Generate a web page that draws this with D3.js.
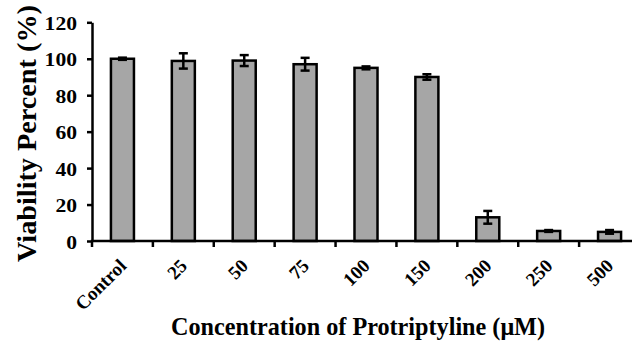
<!DOCTYPE html>
<html>
<head>
<meta charset="utf-8">
<script src="https://cdn.jsdelivr.net/npm/d3@7"></script>
<style>
  html, body { margin: 0; padding: 0; background: #fff; }
  svg { display: block; }
</style>
</head>
<body>
<svg id="chart" width="632" height="346"></svg>
<script>
const categories = ["Control", "25", "50", "75", "100", "150", "200", "250", "500"];
const values = [100, 98.8, 99, 97, 95, 90, 13, 5.5, 5];
const errors = [0.6, 4.2, 3, 3.5, 0.8, 1.5, 3.5, 0.5, 1];
const yTicks = [0, 20, 40, 60, 80, 100, 120];

const FONT = "'Liberation Serif', 'Times New Roman', Times, 'DejaVu Serif', serif";
const svg = d3.select("#chart");
const x0 = 92, x1 = 640, yBase = 241, yTop = 22.3;

const x = d3.scaleBand().domain(categories).range([x0, x1]).paddingInner(0.622).paddingOuter(0.311);
const y = d3.scaleLinear().domain([0, 120]).range([yBase, yTop]);

// bars
svg.append("g").selectAll("rect").data(categories).join("rect")
  .attr("x", d => x(d))
  .attr("y", (d, i) => y(values[i]))
  .attr("width", x.bandwidth())
  .attr("height", (d, i) => y(0) - y(values[i]))
  .attr("fill", "#a6a6a6")
  .attr("stroke", "#000")
  .attr("stroke-width", 2.5);

// error bars
const eg = svg.append("g").attr("stroke", "#000").attr("stroke-width", 2.5);
categories.forEach((c, i) => {
  const cx = x(c) + x.bandwidth() / 2;
  const hi = y(values[i] + errors[i]), lo = y(values[i] - errors[i]);
  eg.append("line").attr("x1", cx).attr("x2", cx).attr("y1", hi).attr("y2", lo);
  eg.append("line").attr("x1", cx - 4.5).attr("x2", cx + 4.5).attr("y1", hi).attr("y2", hi);
  eg.append("line").attr("x1", cx - 4.5).attr("x2", cx + 4.5).attr("y1", lo).attr("y2", lo);
});

// y axis
const yAxis = d3.axisLeft(y).tickValues(yTicks).tickSize(5).tickSizeOuter(0).tickPadding(5);
const ya = svg.append("g").attr("transform", `translate(${x0},0)`).call(yAxis)
  .attr("font-family", FONT);
ya.select(".domain").attr("stroke", "#000").attr("stroke-width", 2.5);
ya.selectAll(".tick line").attr("stroke", "#000").attr("stroke-width", 2.5);
ya.selectAll(".tick text")
  .attr("font-family", FONT)
  .attr("font-weight", "bold")
  .attr("fill", "#000")
  .attr("font-size", 18)
  .attr("x", null)
  .attr("dy", "0.34em")
  .attr("transform", "translate(-15,1) scale(1.2,1)");

// x axis line
svg.append("line").attr("x1", x0 - 1.25).attr("x2", x1).attr("y1", yBase).attr("y2", yBase)
  .attr("stroke", "#000").attr("stroke-width", 2.5);
// boundary ticks
const bounds = d3.range(categories.length + 1).map(i => x0 + i * x.step());
svg.append("g").selectAll("line").data(bounds).join("line")
  .attr("x1", d => d).attr("x2", d => d)
  .attr("y1", yBase).attr("y2", yBase + 6)
  .attr("stroke", "#000").attr("stroke-width", 2.5);

// x labels rotated
svg.append("g").selectAll("text").data(categories).join("text")
  .attr("transform", d => `translate(${x(d) + x.bandwidth() / 2 + 5},267) rotate(-45)`)
  .attr("text-anchor", "end")
  .attr("font-family", FONT)
  .attr("font-weight", "bold")
  .attr("font-size", 19)
  .text(d => d);

// axis titles
svg.append("text")
  .attr("transform", `translate(36,133.5) rotate(-90)`)
  .attr("text-anchor", "middle")
  .attr("font-family", FONT)
  .attr("font-weight", "bold")
  .attr("font-size", 27)
  .attr("textLength", 257)
  .attr("lengthAdjust", "spacingAndGlyphs")
  .text("Viability Percent (%)");

svg.append("text")
  .attr("x", 358).attr("y", 335)
  .attr("text-anchor", "middle")
  .attr("font-family", FONT)
  .attr("font-weight", "bold")
  .attr("font-size", 25)
  .attr("textLength", 374)
  .attr("lengthAdjust", "spacingAndGlyphs")
  .text("Concentration of Protriptyline (μM)");
</script>
</body>
</html>
